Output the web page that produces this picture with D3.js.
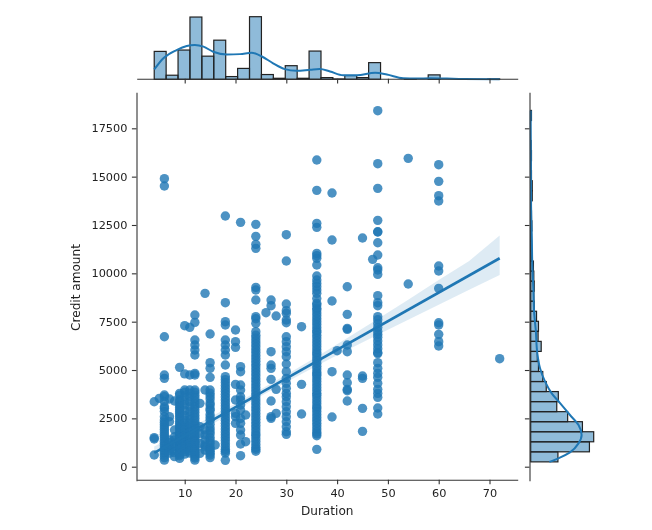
<!DOCTYPE html>
<html>
<head>
<meta charset="utf-8">
<script src="https://cdn.jsdelivr.net/npm/d3@7"></script>
<style>
  html, body { margin: 0; background: #fff; }
  svg { display: block; filter: blur(0.35px); }
  text { font-family: "DejaVu Sans", sans-serif; fill: #222; }
  .axis path, .axis line { stroke: #333; stroke-width: 1.1; }
  .axis text { font-size: 11.3px; }
  .axis-title { font-size: 12.1px; }
  .bar { fill: #1f77b4; fill-opacity: 0.5; stroke: #222; stroke-width: 1.2; }
</style>
</head>
<body>
<svg id="chart" width="652" height="530"></svg>
<script>
// axis ticks
const durationTicks = [10, 20, 30, 40, 50, 60, 70];
const creditTicks = [0, 2500, 5000, 7500, 10000, 12500, 15000, 17500];

// credit amounts, one list per duration column
const credit4 = [3361, 1500, 1431, 603];
const credit5 = [3534];
const credit6 = [14894, 14515, 6723, 4741, 4568, 3707, 3620, 3380, 3103, 3017, 2850, 2586, 2414, 2290, 2170, 2050, 1930, 1800, 1680, 1560, 1450, 1320, 1200, 1080, 960, 840, 720, 600, 470, 340];
const credit7 = [3500, 2586, 2330, 1380, 1240, 1100, 960, 830, 700];
const credit8 = [3396, 1900, 1550, 1379, 1210, 1050, 850, 730, 520];
const credit9 = [5137, 3793, 3700, 3448, 3330, 3190, 3060, 2950, 2840, 2740, 2620, 2500, 2350, 2230, 2120, 2030, 1950, 1800, 1720, 1640, 1560, 1480, 1400, 1330, 1260, 1200, 1130, 1060, 1000, 940, 880, 820, 760, 700, 630, 570, 430];
const credit10 = [7292, 4800, 3965, 3850, 3650, 3400, 3200, 2900, 2650, 2400, 2250, 2100, 1980, 1900, 1750, 1600, 1480, 1350, 1280, 1200, 1100, 1000, 900, 780, 650];
const credit11 = [7206, 4741, 3965, 3800, 3600, 3350, 3100, 2850, 2620, 2413, 2250, 2100, 1950, 1800, 1600, 1400, 1300, 1200, 1070, 950, 820, 700];
const credit12 = [7844, 7465, 6551, 6292, 6034, 5775, 4827, 4741, 3965, 3850, 3700, 3550, 3400, 3250, 3100, 2950, 2800, 2650, 2500, 2350, 2200, 2100, 1950, 1850, 1700, 1600, 1500, 1400, 1300, 1250, 1150, 1050, 950, 850, 750, 650, 550, 450, 340];
const credit13 = [3275, 2069, 1723, 1207, 690];
const credit14 = [8965, 3965, 1900, 1640, 1380, 1120, 1034, 860];
const credit15 = [6861, 5379, 5086, 4620, 3965, 3800, 3650, 3500, 3300, 3189, 3000, 2900, 2700, 2550, 2400, 2200, 2000, 1850, 1700, 1500, 1350, 1200, 1000, 900, 800, 700, 600, 470];
const credit16 = [1120];
const credit18 = [12963, 8482, 7499, 7327, 6551, 6292, 6034, 5775, 5258, 4655, 4500, 4350, 4200, 4050, 3900, 3750, 3600, 3450, 3300, 3150, 3000, 2850, 2700, 2550, 2400, 2250, 2100, 1950, 1800, 1650, 1500, 1350, 1200, 1050, 900, 800, 700, 330];
const credit20 = [7068, 6465, 6172, 4258, 3448, 2758, 2586, 2241];
const credit21 = [12636, 5172, 4913, 4224, 3965, 3620, 3448, 3189, 2930, 2500, 2241, 1896, 1637, 1172, 569];
const credit22 = [2672, 1293];
const credit24 = [12532, 11912, 11500, 11291, 9274, 9137, 8620, 7758, 7650, 7413, 6982, 6800, 6650, 6500, 6350, 6200, 6050, 5900, 5750, 5600, 5450, 5300, 5150, 5000, 4850, 4700, 4550, 4400, 4250, 4100, 3950, 3800, 3650, 3500, 3350, 3200, 3050, 2900, 2750, 2600, 2450, 2300, 2150, 2000, 1850, 1700, 1600, 1450, 1300, 1150, 1000, 900, 800];
const credit26 = [7965];
const credit27 = [8620, 8327, 5948, 5258, 5086, 4517, 3396, 2586, 2500];
const credit28 = [7792, 4000, 2758];
const credit30 = [11998, 10636, 8413, 8068, 7930, 7585, 7448, 6723, 6465, 6206, 5948, 5689, 5310, 4913, 4568, 4310, 4051, 3793, 3620, 3362, 3103, 2844, 2586, 2327, 2068, 1810, 1672];
const credit33 = [7241, 4258, 2724];
const credit36 = [15860, 14291, 12584, 12377, 11032, 10912, 10774, 10429, 9860, 9653, 9480, 9309, 9136, 8965, 8700, 8450, 8361, 8200, 8100, 7950, 7800, 7650, 7500, 7350, 7200, 7050, 6950, 6800, 6650, 6500, 6350, 6200, 6050, 5900, 5800, 5650, 5500, 5350, 5200, 5050, 4900, 4800, 4700, 4550, 4400, 4250, 4100, 3950, 3800, 3700, 3550, 3400, 3250, 3100, 3000, 2850, 2700, 2550, 2400, 2250, 2100, 1950, 1800, 1700, 1600, 896];
const credit39 = [14153, 11722, 8568, 4913, 2569];
const credit40 = [5999];
const credit42 = [9308, 7878, 7154, 7100, 6292, 5948, 4741, 4344, 4000, 3930, 3396];
const credit45 = [11825, 4689, 4568, 3017, 1827];
const credit47 = [10722];
const credit48 = [18411, 15670, 14394, 12739, 12153, 12140, 11584, 10946, 10291, 10170, 9946, 8844, 8482, 8327, 7758, 7600, 7400, 7200, 7000, 6850, 6700, 6500, 6300, 6100, 5900, 5848, 5379, 5086, 4827, 4620, 4310, 4000, 3793, 3586, 3034, 2724];
const credit54 = [15946, 9446];
const credit60 = [15618, 14756, 14015, 13739, 10377, 10119, 9222, 7447, 7327, 6844, 6465, 6241];
const credit72 = [5586];

const creditColumns = [
  [4, credit4], [5, credit5], [6, credit6], [7, credit7], [8, credit8], [9, credit9],
  [10, credit10], [11, credit11], [12, credit12], [13, credit13], [14, credit14], [15, credit15],
  [16, credit16], [18, credit18], [20, credit20], [21, credit21], [22, credit22], [24, credit24],
  [26, credit26], [27, credit27], [28, credit28], [30, credit30], [33, credit33], [36, credit36],
  [39, credit39], [40, credit40], [42, credit42], [45, credit45], [47, credit47], [48, credit48],
  [54, credit54], [60, credit60], [72, credit72]
];

// regression line and its confidence band
const fitDuration = [4, 72];
const fitCredit = [716, 10780];
const bandDuration = [4, 10, 15, 20, 25, 30, 36, 42, 48, 54, 60, 66, 72];
const bandLow = [390, 1340, 2130, 2900, 3650, 4370, 5220, 6040, 6830, 7600, 8370, 9150, 9910];
const bandHigh = [1050, 1870, 2560, 3270, 4000, 4760, 5690, 6650, 7640, 8640, 9650, 10640, 11960];

// top marginal histogram and its density curve
const durationBinStart = 4;
const durationBinWidth = 68 / 29;
const durationCounts = [82, 12, 86, 183, 68, 115, 8, 32, 184, 14, 3, 40, 3, 83, 5, 1, 11, 5, 49, 0, 0, 2, 0, 13, 0, 0, 0, 0, 1];
const kdeDuration = [4, 5.8, 8.4, 10.4, 12, 13.7, 15.6, 18.3, 20.9, 23.2, 25.2, 27.4, 29.7, 32, 34.7, 36.6, 38.6, 41.2, 43.9, 47.5, 49.8, 53, 55.7, 58.3, 61.6, 64.8, 72];
const kdeDurationCount = [29, 62, 86, 98, 101, 96, 81, 73, 74, 78, 67, 47, 30, 25, 28, 30, 23, 12, 12, 19, 14, 3, 2, 3, 2, 1, 0];

// right marginal histogram and its density curve
const creditBinStart = 250;
const creditBinWidth = 18174 / 35;
const creditCounts = [70, 151, 162, 133, 95, 67, 71, 40, 31, 20, 17, 27, 19, 20, 15, 9, 8, 9, 8, 7, 3, 2, 2, 3, 2, 1, 4, 4, 2, 1, 2, 1, 0, 0, 2];
const kdeCredit = [250, 432, 742, 1208, 1639, 2156, 2674, 3277, 3795, 4397, 5087, 5865, 7069, 7932, 9138, 10518, 11724, 13444, 17760, 18424];
const kdeCreditCount = [48, 71, 101, 123, 131, 123, 101, 76, 54, 37, 24, 17, 13, 9, 7, 4, 3, 1, 0, 0];

const BLUE = '#1f77b4';
const main = {left: 136.7, right: 517.7, top: 92.3, bottom: 480.7};
const svg = d3.select('#chart');

const xScale = d3.scaleLinear().domain([0.55, 75.55]).range([main.left, main.right]);
const yScale = d3.scaleLinear().domain([-724, 19362]).range([main.bottom, main.top]);
const topCount = d3.scaleLinear().domain([0, 184]).range([79.3, 16.7]);
const rightCount = d3.scaleLinear().domain([0, 162]).range([530.7, 593.7]);

// scatter
const points = creditColumns.flatMap(([d, amounts]) => amounts.map(a => [d, a]));
svg.append('g').selectAll('circle')
    .data(points)
  .join('circle')
    .attr('cx', d => xScale(d[0]))
    .attr('cy', d => yScale(d[1]))
    .attr('r', 4.7)
    .attr('fill', BLUE)
    .attr('fill-opacity', 0.8);

// regression band and line
const band = d3.area()
    .x((d, i) => xScale(bandDuration[i]))
    .y0((d, i) => yScale(bandLow[i]))
    .y1((d, i) => yScale(bandHigh[i]));
svg.append('path')
    .attr('d', band(bandDuration))
    .attr('fill', BLUE)
    .attr('fill-opacity', 0.15);

const fitLine = d3.line()
    .x((d, i) => xScale(fitDuration[i]))
    .y((d, i) => yScale(fitCredit[i]));
svg.append('path')
    .attr('d', fitLine(fitDuration))
    .attr('fill', 'none')
    .attr('stroke', BLUE)
    .attr('stroke-width', 2.6);

// top histogram
svg.append('g').selectAll('rect')
    .data(durationCounts)
  .join('rect')
    .attr('class', 'bar')
    .attr('x', (d, i) => xScale(durationBinStart + i * durationBinWidth))
    .attr('width', xScale(durationBinWidth) - xScale(0))
    .attr('y', d => topCount(d))
    .attr('height', d => topCount(0) - topCount(d));

svg.append('path')
    .attr('d', d3.line()
      .curve(d3.curveMonotoneX)
      .x((d, i) => xScale(kdeDuration[i]))
      .y((d, i) => topCount(kdeDurationCount[i]))(kdeDuration))
    .attr('fill', 'none')
    .attr('stroke', BLUE)
    .attr('stroke-width', 2);

// right histogram
svg.append('g').selectAll('rect')
    .data(creditCounts)
  .join('rect')
    .attr('class', 'bar')
    .attr('x', rightCount(0))
    .attr('y', (d, i) => yScale(creditBinStart + (i + 1) * creditBinWidth))
    .attr('height', yScale(0) - yScale(creditBinWidth))
    .attr('width', d => rightCount(d) - rightCount(0));

svg.append('path')
    .attr('d', d3.line()
      .curve(d3.curveMonotoneY)
      .x((d, i) => rightCount(kdeCreditCount[i]))
      .y((d, i) => yScale(kdeCredit[i]))(kdeCredit))
    .attr('fill', 'none')
    .attr('stroke', BLUE)
    .attr('stroke-width', 2);

// main axes
svg.append('g')
    .attr('class', 'axis')
    .attr('transform', `translate(0,${main.bottom - 1})`)
    .call(d3.axisBottom(xScale).tickValues(durationTicks).tickSize(4.6).tickSizeOuter(0).tickPadding(4.5));

svg.append('g')
    .attr('class', 'axis')
    .attr('transform', `translate(${main.left - 0.2},0)`)
    .call(d3.axisLeft(yScale).tickValues(creditTicks).tickFormat(d3.format('d')).tickSize(4.6).tickSizeOuter(0).tickPadding(4.5));

// marginal axes have ticks but no labels
svg.append('g')
    .attr('class', 'axis')
    .attr('transform', `translate(0,${topCount(0) - 0.5})`)
    .call(d3.axisBottom(xScale).tickValues(durationTicks).tickFormat('').tickSize(4.6).tickSizeOuter(0));

svg.append('g')
    .attr('class', 'axis')
    .attr('transform', `translate(${rightCount(0) - 1.2},0)`)
    .call(d3.axisLeft(yScale).tickValues(creditTicks).tickFormat('').tickSize(4.6).tickSizeOuter(0));

// axis titles
svg.append('text')
    .attr('class', 'axis-title')
    .attr('x', (main.left + main.right) / 2)
    .attr('y', 515)
    .attr('text-anchor', 'middle')
    .text('Duration');

svg.append('text')
    .attr('class', 'axis-title')
    .attr('transform', `translate(80,287.5) rotate(-90)`)
    .attr('text-anchor', 'middle')
    .text('Credit amount');
</script>
</body>
</html>
